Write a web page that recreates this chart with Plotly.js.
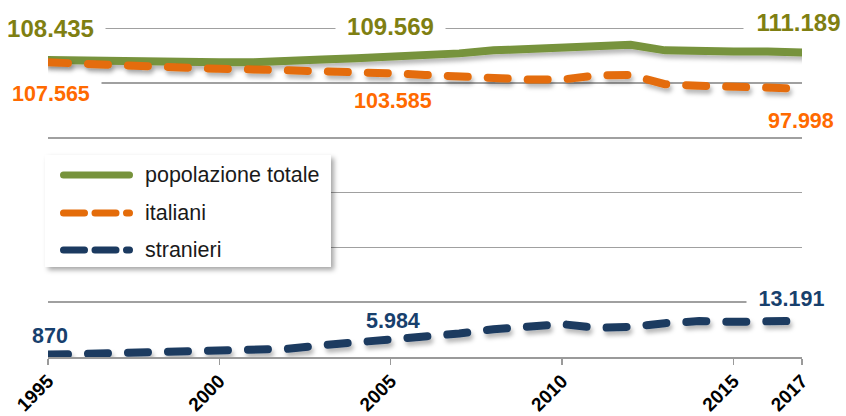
<!DOCTYPE html>
<html><head><meta charset="utf-8">
<script src="https://cdn.plot.ly/plotly-3.0.1.min.js"></script>
<style>html,body{margin:0;padding:0;background:#fff;} #chart{width:846px;height:416px;}</style>
</head><body><div id="chart"></div>
<script>
const years = [1995,1996,1997,1998,1999,2000,2001,2002,2003,2004,2005,2006,2007,2008,2009,2010,2011,2012,2013,2014,2015,2016,2017];
const totale = [108435,108200,107900,107550,107500,107650,107650,107800,108600,109100,109569,110100,110850,111950,112450,113300,113450,114000,111950,112100,111550,111500,111189];
const italiani = [107565,107000,106500,105800,105400,105200,105000,104800,104300,103700,103585,103000,102300,101800,101300,101300,102800,103000,99600,99000,98700,98400,97998];
const stranieri = [870,1100,1350,1700,2100,2450,2650,3000,4300,5400,5984,7100,8550,10150,11150,12000,10650,11000,12350,13100,12850,13100,13191];
const tickYears = [1995,2000,2005,2010,2015,2017];
const labelYears = [1995,2005,2017];
const seriesNames = ['popolazione totale','italiani','stranieri'];

const lineColors = ['#77933C','#E46C0A','#1B3A60'];
const textColors = ['#7F7F12','#FF6A00','#17406D'];
const FONT = 'Arial, "Liberation Sans", sans-serif';

function fmt(n){ return String(n).replace(/\B(?=(\d{3})+(?!\d))/g,'.'); }

const W=846,H=416,L=48,R=44,T=27,B=59;
const pw=W-L-R, ph=H-T-B;
const px=x=>(x-L)/pw, py=y=>(H-B-y)/ph;

const series=[totale,italiani,stranieri];
const traces = series.map((s,i)=>({
  x: years, y: s, type:'scatter', mode:'lines', name: seriesNames[i],
  line:{color:lineColors[i], width:8, dash: i===0?'solid':'20px,20px'},
  hoverinfo:'skip'
}));

// label placement offsets (styles)
const offs = [
  [[2.5,31,true],[0,30.5,true],[-4,30,true]],
  [[2.5,-32,true],[2.3,-27.4,false],[-1.5,-32,false]],
  [[2,19,false],[1.8,19.6,false],[-11,21.4,true]]
];
const fsz=[24,21.5,21.5];
const annotations=[];
series.forEach((s,i)=>{
  labelYears.forEach((yr,j)=>{
    const v=s[years.indexOf(yr)];
    const t=fmt(v);
    const o=offs[i][j];
    const a={x:yr,y:v,xref:'x',yref:'y',text:'<b>'+t+'</b>',showarrow:false,
      xanchor:'center',yanchor:'middle',xshift:o[0],yshift:o[1],
      font:{family:FONT,size:fsz[i],color:textColors[i]}};
    if(o[2]){a.bgcolor='#ffffff'; a.borderpad=2; a.width=Math.round(t.length*0.52*fsz[i])+18;}
    annotations.push(a);
  });
});
// custom legend
const legY=[175,213,250];
const shapes=[{type:'rect',xref:'paper',yref:'paper',x0:px(45),x1:px(331),y0:py(155),y1:py(267),
  fillcolor:'#ffffff',line:{width:0},layer:'above'}];
seriesNames.forEach((n,i)=>{
  shapes.push({type:'line',xref:'paper',yref:'paper',x0:px(63.5),x1:px(129.5),y0:py(legY[i]),y1:py(legY[i]),
    line:{color:lineColors[i],width:7,dash:i===0?'solid':'21px,10.5px'},layer:'above'});
  annotations.push({xref:'paper',yref:'paper',x:px(143),y:py(legY[i]),text:n,showarrow:false,
    xanchor:'left',yanchor:'middle',font:{family:FONT,size:21.5,color:'#1a1a1a'}});
});

const layout={
  width:W,height:H,margin:{l:L,r:R,t:T,b:B},
  paper_bgcolor:'#fff',plot_bgcolor:'#fff',showlegend:false,
  xaxis:{range:[1995,2017],tickvals:tickYears,ticktext:tickYears.map(String),tickangle:-45,
    ticks:'outside',ticklen:6,tickwidth:1.5,tickcolor:'#9a9a9a',showgrid:false,zeroline:false,
    showline:true,linecolor:'#9a9a9a',linewidth:1.5,ticklabelstandoff:-2,
    tickfont:{family:FONT,size:19,color:'#000',weight:'bold'}},
  yaxis:{range:[0,120480],tickvals:[20000,40000,60000,80000,100000,120000],showticklabels:false,showgrid:true,gridcolor:'#a0a0a0',gridwidth:1.5,
    zeroline:false,showline:false,ticks:''},
  annotations:annotations,shapes:shapes
};

Plotly.newPlot('chart',traces,layout,{staticPlot:true}).then(gd=>{
  const svg=gd.querySelector('.main-svg');
  const ns='http://www.w3.org/2000/svg';
  const defs=document.createElementNS(ns,'defs');
  defs.innerHTML='<filter id="shd" filterUnits="userSpaceOnUse" x="-200" y="-200" width="1300" height="900">'+
    '<feDropShadow dx="2" dy="4" stdDeviation="2.2" flood-color="#000" flood-opacity="0.28"/></filter>'+
    '<filter id="shb" filterUnits="userSpaceOnUse" x="-200" y="-200" width="1300" height="900">'+
    '<feDropShadow dx="3" dy="3" stdDeviation="2.5" flood-color="#000" flood-opacity="0.35"/></filter>';
  svg.insertBefore(defs,svg.firstChild);
  gd.querySelectorAll('.scatterlayer .js-line').forEach(p=>{
    p.style.strokeLinecap='round'; p.setAttribute('filter','url(#shd)');
  });
  const sp=gd.querySelectorAll('.shapelayer path');
  sp.forEach((p,k)=>{ if(k===0){p.setAttribute('filter','url(#shb)');} else {p.style.strokeLinecap='round';} });
});
</script></body></html>
